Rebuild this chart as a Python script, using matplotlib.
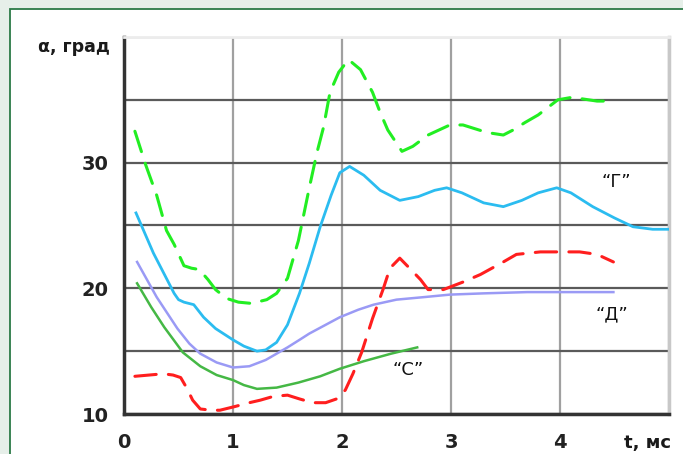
import matplotlib
matplotlib.use("Agg")
import matplotlib.pyplot as plt
from matplotlib.patches import Rectangle

# ---- data ----
g_dash_x = [0.1, 0.2, 0.3, 0.39, 0.46, 0.55, 0.62, 0.69, 0.77, 0.84, 0.94, 1.05, 1.17, 1.31, 1.4, 1.5,
            1.6, 1.7, 1.77, 1.83, 1.89, 1.97, 2.06, 2.17, 2.28, 2.35, 2.42, 2.55, 2.65, 2.79, 2.99,
            3.11, 3.33, 3.48, 3.57, 3.68, 3.8, 3.98, 4.11, 4.34, 4.49]
g_dash_y = [32.5, 29.8, 27.4, 24.6, 23.5, 21.8, 21.6, 21.5, 20.7, 19.9, 19.2, 18.9, 18.8, 19.1, 19.6, 20.8,
            23.8, 28.0, 30.8, 32.8, 35.6, 37.2, 38.2, 37.4, 35.6, 34.0, 32.6, 30.9, 31.3, 32.2, 33.0,
            33.0, 32.4, 32.2, 32.6, 33.2, 33.8, 35.0, 35.2, 34.9, 34.9]

cyan_x = [0.11, 0.27, 0.46, 0.5, 0.55, 0.64, 0.73, 0.84, 1.0, 1.1, 1.22, 1.3, 1.4, 1.5, 1.61, 1.7, 1.8,
          1.9, 1.98, 2.07, 2.2, 2.35, 2.53, 2.7, 2.85, 2.96, 3.1, 3.3, 3.48, 3.65, 3.8, 3.97, 4.1,
          4.3, 4.5, 4.67, 4.85, 5.0]
cyan_y = [26.0, 22.8, 19.6, 19.1, 18.9, 18.7, 17.7, 16.8, 15.9, 15.4, 15.0, 15.1, 15.7, 17.1, 19.6, 22.0, 24.9,
          27.4, 29.2, 29.7, 29.0, 27.8, 27.0, 27.3, 27.8, 28.0, 27.6, 26.8, 26.5, 27.0, 27.6, 28.0, 27.6,
          26.5, 25.6, 24.9, 24.7, 24.7]

lav_x = [0.12, 0.3, 0.49, 0.6, 0.7, 0.85, 1.0, 1.15, 1.3, 1.5, 1.61, 1.7, 1.98, 2.15, 2.29, 2.5, 2.75,
         2.99, 3.3, 3.7, 4.1, 4.49]
lav_y = [22.1, 19.3, 16.8, 15.6, 14.8, 14.1, 13.7, 13.8, 14.3, 15.3, 15.9, 16.4, 17.7, 18.3, 18.7, 19.1, 19.3,
         19.5, 19.6, 19.7, 19.7, 19.7]

gs_x = [0.12, 0.25, 0.37, 0.54, 0.7, 0.85, 1.0, 1.1, 1.22, 1.4, 1.6, 1.8, 1.98, 2.2, 2.45, 2.69]
gs_y = [20.4, 18.5, 16.9, 14.9, 13.8, 13.1, 12.7, 12.3, 12.0, 12.1, 12.5, 13.0, 13.6, 14.2, 14.8, 15.3]

red_x = [0.1, 0.36, 0.45, 0.52, 0.58, 0.63, 0.7, 0.8, 0.88, 1.02, 1.15, 1.25, 1.37, 1.5, 1.61, 1.73,
         1.85, 1.95, 2.03, 2.1, 2.18, 2.28, 2.38, 2.44, 2.53, 2.62, 2.72, 2.79, 2.93, 3.11, 3.27,
         3.48, 3.6, 3.82, 3.94, 4.18, 4.34, 4.49]
red_y = [13.0, 13.2, 13.1, 12.9, 12.0, 11.1, 10.4, 10.3, 10.3, 10.6, 10.9, 11.1, 11.4, 11.5, 11.2, 10.9,
         10.9, 11.2, 11.9, 13.2, 14.9, 17.6, 20.0, 21.6, 22.4, 21.6, 20.7, 19.9, 19.9, 20.5, 21.1,
         22.1, 22.7, 22.9, 22.9, 22.9, 22.7, 22.1]

x_ticks = [0, 1, 2, 3, 4, 5]
x_ticklabels = ["0", "1", "2", "3", "4", ""]
y_ticks = [10, 15, 20, 25, 30, 35, 40]
y_ticklabels = ["10", "", "20", "", "30", "", ""]

curve_labels = ["\u201cГ\u201d", "\u201cД\u201d", "\u201cС\u201d"]
curve_label_x = [4.52, 4.48, 2.61]
curve_label_y = [28.5, 17.9, 13.5]

# ---- figure ----
fig = plt.figure(figsize=(6.83, 4.54), dpi=100)
fig.patch.set_facecolor("#e6efe9")
fig.patches.append(Rectangle((10 / 683, -0.1), 1.2, 1.1 - 9 / 454, transform=fig.transFigure,
                             facecolor="white", edgecolor="#2b7a47", lw=1.3, zorder=-10))

ax = fig.add_axes([124 / 683, 40 / 454, (669 - 124) / 683, (414 - 37) / 454])
ax.set_facecolor("white")
ax.set_xlim(0, 5)
ax.set_ylim(10, 40)

ax.set_xticks(x_ticks)
ax.set_xticklabels(x_ticklabels)
ax.set_yticks(y_ticks)
ax.set_yticklabels(y_ticklabels)
ax.tick_params(length=0)
ax.tick_params(axis="x", pad=14)
ax.tick_params(axis="y", pad=11)
for lab in ax.get_xticklabels() + ax.get_yticklabels():
    lab.set_fontsize(14)
    lab.set_fontweight("bold")
    lab.set_color("#222222")

ax.grid(axis="y", color="#5a5a5a", lw=1.6, zorder=1)
ax.grid(axis="x", color="#a0a0a0", lw=1.6, zorder=1)
ax.set_axisbelow(True)

for side in ["left", "bottom"]:
    ax.spines[side].set_color("#333333")
    ax.spines[side].set_linewidth(2.5)
ax.spines["right"].set_color("#c8c8c8")
ax.spines["right"].set_linewidth(2.5)
ax.spines["top"].set_color("#ececec")
ax.spines["top"].set_linewidth(2.0)

ax.plot(g_dash_x, g_dash_y, color="#22ee22", lw=2.2, dashes=(7, 4), dash_capstyle="round", zorder=3)
ax.plot(cyan_x, cyan_y, color="#2bbcf0", lw=2.0, solid_joinstyle="round", zorder=3)
ax.plot(lav_x, lav_y, color="#9a9af5", lw=1.8, solid_joinstyle="round", zorder=3)
ax.plot(gs_x, gs_y, color="#45b845", lw=1.8, solid_joinstyle="round", zorder=3)
ax.plot(red_x, red_y, color="#ff1e1e", lw=2.2, dashes=(7, 4), dash_capstyle="round", zorder=4)

for t, x, y in zip(curve_labels, curve_label_x, curve_label_y):
    ax.text(x, y, t, fontsize=13, ha="center", va="center", color="#111111", zorder=5)

fig.text(110 / 683, 1 - 47 / 454, "α, град", fontsize=12.5, fontweight="bold",
         ha="right", va="center", color="#1a1a1a")
fig.text(648 / 683, 1 - 443 / 454, "t, мс", fontsize=13, fontweight="bold",
         ha="center", va="center", color="#1a1a1a")

fig.savefig("out.png", dpi=100, facecolor=fig.get_facecolor())
